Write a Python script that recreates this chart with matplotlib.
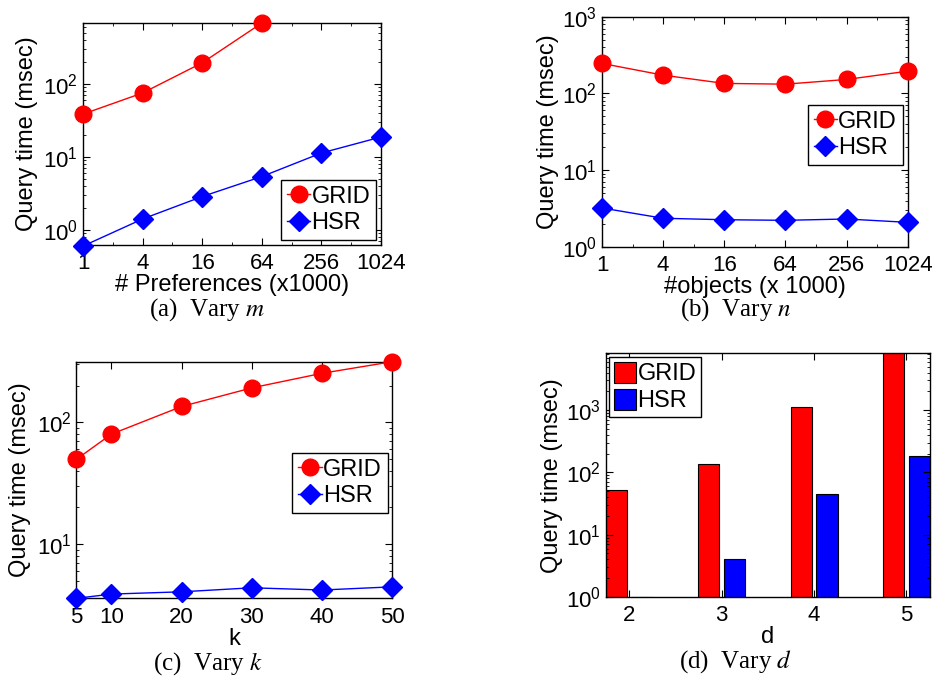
import matplotlib
matplotlib.use("Agg")
import matplotlib.pyplot as plt
from matplotlib.ticker import FixedLocator, NullFormatter, LogLocator
import numpy as np

plt.rcParams['font.family'] = ['Liberation Sans', 'DejaVu Sans']
plt.rcParams['mathtext.fontset'] = 'stix'
plt.rcParams['xtick.direction'] = 'in'
plt.rcParams['ytick.direction'] = 'in'
plt.rcParams['xtick.top'] = True
plt.rcParams['ytick.right'] = True

# (a) vary m : number of preferences (x1000)
prefs = [1, 4, 16, 64, 256, 1024]
grid_m = [38.5, 75, 194, 680]
hsr_m = [0.6, 1.41, 2.86, 5.37, 11.3, 18.7]

# (b) vary n : number of objects (x1000)
objects = [1, 4, 16, 64, 256, 1024]
grid_n = [246, 173, 135, 132, 152, 195]
hsr_n = [3.2, 2.35, 2.25, 2.21, 2.3, 2.08]

# (c) vary k
ks = [5, 10, 20, 30, 40, 50]
grid_k = [49.6, 80, 135, 192, 253, 315]
hsr_k = [3.58, 3.88, 4.05, 4.37, 4.19, 4.45]

# (d) vary d
dims = [2, 3, 4, 5]
grid_d = [52, 137, 1120, 10000]
hsr_d = [1.0, 4.04, 44.8, 185]

FS_TICK = 16
FS_LAB = 17
FS_CAP = 18


def style_axes(ax):
    ax.tick_params(which='major', length=5, width=0.8, labelsize=FS_TICK)
    ax.tick_params(axis='x', which='major', pad=6)
    ax.tick_params(which='minor', length=2.5, width=0.6)
    for s in ax.spines.values():
        s.set_linewidth(1.0)


def line_panel(ax, x, grid, hsr):
    ax.plot(x[:len(grid)], grid, '-o', color='red', mfc='red', mec='red',
            ms=12, lw=1.0, label='GRID', clip_on=False, zorder=3)
    ax.plot(x[:len(hsr)], hsr, '-D', color='blue', mfc='blue', mec='blue',
            ms=10, lw=1.0, label='HSR', clip_on=False, zorder=3)


def add_legend(ax, loc, bbox):
    leg = ax.legend(loc=loc, bbox_to_anchor=bbox, fontsize=FS_LAB,
                    handlelength=1.0, handletextpad=0.05, borderpad=0.25,
                    labelspacing=0.2, borderaxespad=0.2, fancybox=False,
                    framealpha=1, edgecolor='black')
    leg.get_frame().set_linewidth(1.0)
    return leg


fig = plt.figure(figsize=(9.37, 6.78), dpi=100)

# ---- (a)
ax1 = fig.add_axes([0.0886, 0.6386, 0.318, 0.3274])
line_panel(ax1, prefs, grid_m, hsr_m)
ax1.set_xscale('log', base=2)
ax1.set_yscale('log')
ax1.set_xlim(1, 1024)
ax1.set_ylim(0.62, 680)
ax1.xaxis.set_major_locator(FixedLocator(prefs))
ax1.set_xticklabels([str(p) for p in prefs])
ax1.xaxis.set_minor_locator(FixedLocator([2, 8, 32, 128, 512]))
ax1.xaxis.set_minor_formatter(NullFormatter())
ax1.yaxis.set_major_locator(LogLocator(base=10, numticks=10))
ax1.set_xlabel('# Preferences (x1000)', fontsize=FS_LAB, labelpad=0)
ax1.set_ylabel('Query time (msec)', fontsize=FS_LAB, labelpad=4)
style_axes(ax1)
add_legend(ax1, 'lower right', (1, 0))

# ---- (b)
ax2 = fig.add_axes([0.6425, 0.6361, 0.3262, 0.3392])
line_panel(ax2, objects, grid_n, hsr_n)
ax2.set_xscale('log', base=2)
ax2.set_yscale('log')
ax2.set_xlim(1, 1024)
ax2.set_ylim(1, 1000)
ax2.xaxis.set_major_locator(FixedLocator(objects))
ax2.set_xticklabels([str(p) for p in objects])
ax2.xaxis.set_minor_locator(FixedLocator([2, 8, 32, 128, 512]))
ax2.xaxis.set_minor_formatter(NullFormatter())
ax2.set_xlabel('#objects (x 1000)', fontsize=FS_LAB, labelpad=0)
ax2.set_ylabel('Query time (msec)', fontsize=FS_LAB, labelpad=2)
style_axes(ax2)
add_legend(ax2, 'upper right', (1, 0.638))

# ---- (c)
ax3 = fig.add_axes([0.0814, 0.1175, 0.3372, 0.349])
line_panel(ax3, ks, grid_k, hsr_k)
ax3.set_yscale('log')
ax3.set_xlim(5, 50)
ax3.set_ylim(3.58, 315)
ax3.set_xticks(ks)
ax3.set_xlabel('k', fontsize=FS_LAB, labelpad=0)
ax3.set_ylabel('Query time (msec)', fontsize=FS_LAB, labelpad=4)
style_axes(ax3)
add_legend(ax3, 'upper right', (1, 0.635))

# ---- (d)
ax4 = fig.add_axes([0.6464, 0.1195, 0.3461, 0.3594])
xd = np.array(dims, dtype=float)
bw = 0.228
off = 0.14
ax4.bar(xd - off, grid_d, width=bw, color='red', edgecolor='black',
        linewidth=0.8, label='GRID')
ax4.bar(xd + off, hsr_d, width=bw, color='blue', edgecolor='black',
        linewidth=0.8, label='HSR')
ax4.set_yscale('log')
ax4.set_xlim(dims[0] - off - bw / 2, dims[-1] + off + bw / 2)
ax4.set_ylim(1, 8200)
ax4.set_xticks(dims)
ax4.yaxis.set_major_locator(LogLocator(base=10, numticks=10))
ax4.set_xlabel('d', fontsize=FS_LAB, labelpad=0)
ax4.set_ylabel('Query time (msec)', fontsize=FS_LAB, labelpad=2)
style_axes(ax4)
ax4.tick_params(axis='x', which='minor', top=False, bottom=False)
leg = ax4.legend(loc='upper left', fontsize=FS_LAB, handlelength=0.95,
                 handleheight=1.0, handletextpad=0.05, borderpad=0.2,
                 labelspacing=0.15, borderaxespad=0.15, fancybox=False,
                 framealpha=1, edgecolor='black')
leg.get_frame().set_linewidth(1.0)

# captions
for xc, yc, tag, var in [(0.221, 0.543, '(a)', 'm'), (0.7855, 0.543, '(b)', 'n'),
                         (0.222, 0.022, '(c)', 'k'), (0.7855, 0.0236, '(d)', 'd')]:
    fig.text(xc, yc, tag + '  Vary $' + var + '$', fontsize=FS_CAP,
             family='Liberation Serif', ha='center', va='center')

fig.savefig('out.png', dpi=100)
